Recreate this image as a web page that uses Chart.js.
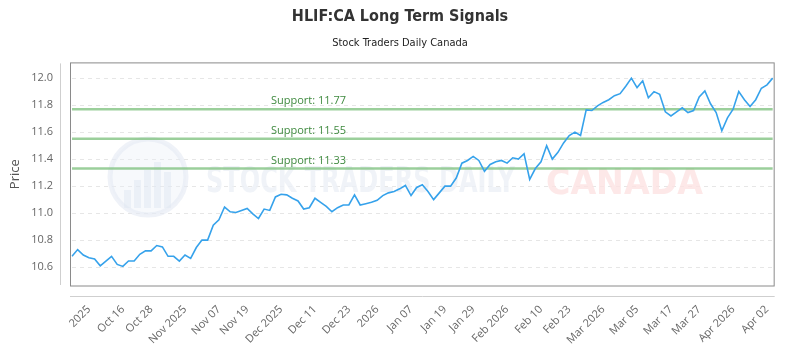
<!DOCTYPE html>
<html>
<head>
<meta charset="utf-8">
<script src="https://cdn.jsdelivr.net/npm/chart.js@4.4.0/dist/chart.umd.min.js"></script>
<style>
  html, body { margin: 0; padding: 0; background: #fff; }
  #wrap { width: 800px; height: 350px; }
</style>
</head>
<body>
<div id="wrap"><canvas id="chart"></canvas></div>
<script>
// daily closes
const prices = [
  10.68, 10.73, 10.69, 10.67, 10.66, 10.61, 10.645, 10.68, 10.62, 10.605,
  10.645, 10.645, 10.695, 10.72, 10.72, 10.76, 10.75, 10.68, 10.68, 10.645,
  10.69, 10.665, 10.745, 10.80, 10.80, 10.91, 10.95, 11.045, 11.01, 11.005,
  11.02, 11.035, 10.995, 10.96, 11.03, 11.02, 11.12, 11.14, 11.135, 11.11,
  11.09, 11.03, 11.04, 11.11, 11.08, 11.05, 11.01, 11.04, 11.06, 11.06,
  11.135, 11.06, 11.07, 11.08, 11.095, 11.13, 11.15, 11.16, 11.18, 11.205,
  11.13, 11.19, 11.21, 11.16, 11.10, 11.15, 11.20, 11.20, 11.26, 11.37,
  11.39, 11.42, 11.39, 11.31, 11.36, 11.38, 11.39, 11.37, 11.41, 11.40,
  11.44, 11.25, 11.33, 11.38, 11.50, 11.40, 11.45, 11.52, 11.575, 11.60,
  11.575, 11.765, 11.76, 11.795, 11.82, 11.84, 11.87, 11.885, 11.94, 12.00,
  11.93, 11.98, 11.855, 11.90, 11.88, 11.75, 11.72, 11.75, 11.78, 11.745,
  11.76, 11.86, 11.905, 11.81, 11.745, 11.61, 11.705, 11.77, 11.90, 11.84,
  11.79, 11.84, 11.925, 11.95, 12.00
];

const tickLabels = [
  "2025", "Oct 16", "Oct 28", "Nov 2025", "Nov 07", "Nov 19", "Dec 2025",
  "Dec 11", "Dec 23", "2026", "Jan 07", "Jan 19", "Jan 29", "Feb 2026",
  "Feb 10", "Feb 23", "Mar 2026", "Mar 05", "Mar 17", "Mar 27", "Apr 2026", "Apr 02"
];
const tickIndex = [3, 9, 14, 20, 26, 31, 37, 43, 49, 54, 60, 66, 71, 77, 83, 88, 94, 100, 106, 111, 117, 123];

const yTicks = [10.6, 10.8, 11.0, 11.2, 11.4, 11.6, 11.8, 12.0];
const supportLevels = [11.77, 11.55, 11.33];

const tickFont = "'Open Sans', sans-serif";
const narrowFont = "'Liberation Sans Narrow', 'DejaVu Sans Condensed', sans-serif";

const labels = prices.map((p, i) => {
  const k = tickIndex.indexOf(i);
  return k >= 0 ? tickLabels[k] : "";
});

function fitText(ctx, text, x, y, w, size, color) {
  ctx.save();
  ctx.font = `bold ${size}px ${narrowFont}`;
  const m = ctx.measureText(text).width;
  ctx.translate(x, y);
  ctx.scale(w / m, 1);
  ctx.fillStyle = color;
  ctx.textAlign = "left";
  ctx.textBaseline = "alphabetic";
  ctx.fillText(text, 0, 0);
  ctx.restore();
}

const decorations = {
  id: "decorations",
  beforeDatasetsDraw(chart) {
    const { ctx, chartArea: a, scales: { y } } = chart;

    // watermark logo
    ctx.save();
    ctx.beginPath();
    ctx.arc(148, 177, 38, 0, Math.PI * 2);
    ctx.fillStyle = "rgba(232,237,245,0.35)";
    ctx.fill();
    ctx.lineWidth = 5;
    ctx.strokeStyle = "rgba(228,234,243,0.6)";
    ctx.stroke();
    ctx.fillStyle = "rgba(224,231,242,0.5)";
    [[124, 190], [134, 180], [144, 170], [154, 162], [164, 172]].forEach(([bx, top]) => {
      ctx.fillRect(bx, top, 7, 208 - top);
    });
    ctx.restore();

    fitText(ctx, "STOCK TRADERS DAILY", 206, 192, 309, 36, "rgba(236,240,246,0.8)");
    fitText(ctx, "CANADA", 546, 194, 157, 35, "rgba(253,226,226,0.8)");

    // support levels
    ctx.save();
    supportLevels.forEach(level => {
      const py = y.getPixelForValue(level);
      ctx.beginPath();
      ctx.moveTo(a.left, py);
      ctx.lineTo(a.right, py);
      ctx.lineWidth = 2.5;
      ctx.strokeStyle = "rgba(130,195,130,0.8)";
      ctx.stroke();
      ctx.font = `11px ${tickFont}`;
      ctx.fillStyle = "#3f8a3f";
      ctx.textAlign = "left";
      ctx.textBaseline = "alphabetic";
      ctx.fillText("Support: " + level.toFixed(2), a.left + 199, py - 5);
    });
    ctx.restore();
  },
  afterDraw(chart) {
    const { ctx, chartArea: a } = chart;
    ctx.save();
    ctx.lineWidth = 1;
    ctx.strokeStyle = "#8a8a8a";
    ctx.strokeRect(a.left - 1.5, a.top - 0.5, a.right - a.left + 3, a.bottom - a.top + 1.5);
    ctx.strokeStyle = "#cfcfcf";
    ctx.beginPath();
    ctx.moveTo(a.left - 11.5, a.top);
    ctx.lineTo(a.left - 11.5, a.bottom);
    ctx.moveTo(a.left - 2, a.bottom + 11.5);
    ctx.lineTo(a.right + 2, a.bottom + 11.5);
    ctx.stroke();
    ctx.restore();
  }
};

new Chart(document.getElementById("chart"), {
  type: "line",
  data: {
    labels: labels,
    datasets: [
      {
        data: prices,
        borderColor: "#36a2eb",
        borderWidth: 1.6,
        pointRadius: 0,
        tension: 0,
        fill: false,
      },
    ],
  },
  options: {
    responsive: true,
    maintainAspectRatio: false,
    animation: false,
    layout: { padding: { left: 12, right: 12, top: 0, bottom: 0 } },
    plugins: {
      legend: { display: false },
      tooltip: { enabled: false },
      title: {
        display: true,
        text: "HLIF:CA Long Term Signals",
        color: "#333",
        font: { family: narrowFont, size: 16, weight: "bold" },
        padding: { top: 7, bottom: 4 },
      },
      subtitle: {
        display: true,
        text: "Stock Traders Daily Canada",
        color: "#222",
        font: { family: narrowFont, size: 11 },
        padding: { top: 6, bottom: 14 },
      },
    },
    scales: {
      x: {
        grid: { display: false, drawTicks: false },
        border: { display: false },
        ticks: {
          autoSkip: false,
          minRotation: 45,
          maxRotation: 45,
          padding: 18,
          color: "#666",
          font: { family: tickFont, size: 11 },
        },
        afterFit(scale) { scale.height = 65; },
      },
      y: {
        min: 10.4675,
        max: 12.109,
        grid: { color: "#e6e6e6", drawTicks: false },
        border: { display: false, dash: [4, 4] },
        afterBuildTicks(scale) { scale.ticks = yTicks.map(v => ({ value: v })); },
        afterFit(scale) { scale.width = 60; },
        ticks: {
          padding: 19,
          color: "#666",
          font: { family: tickFont, size: 11 },
          callback: v => v.toFixed(1),
        },
        title: {
          display: true,
          text: "Price",
          color: "#555",
          font: { family: tickFont, size: 13 },
          padding: { top: -5, bottom: 0 },
        },
      },
    },
  },
  plugins: [decorations],
});
</script>
</body>
</html>
